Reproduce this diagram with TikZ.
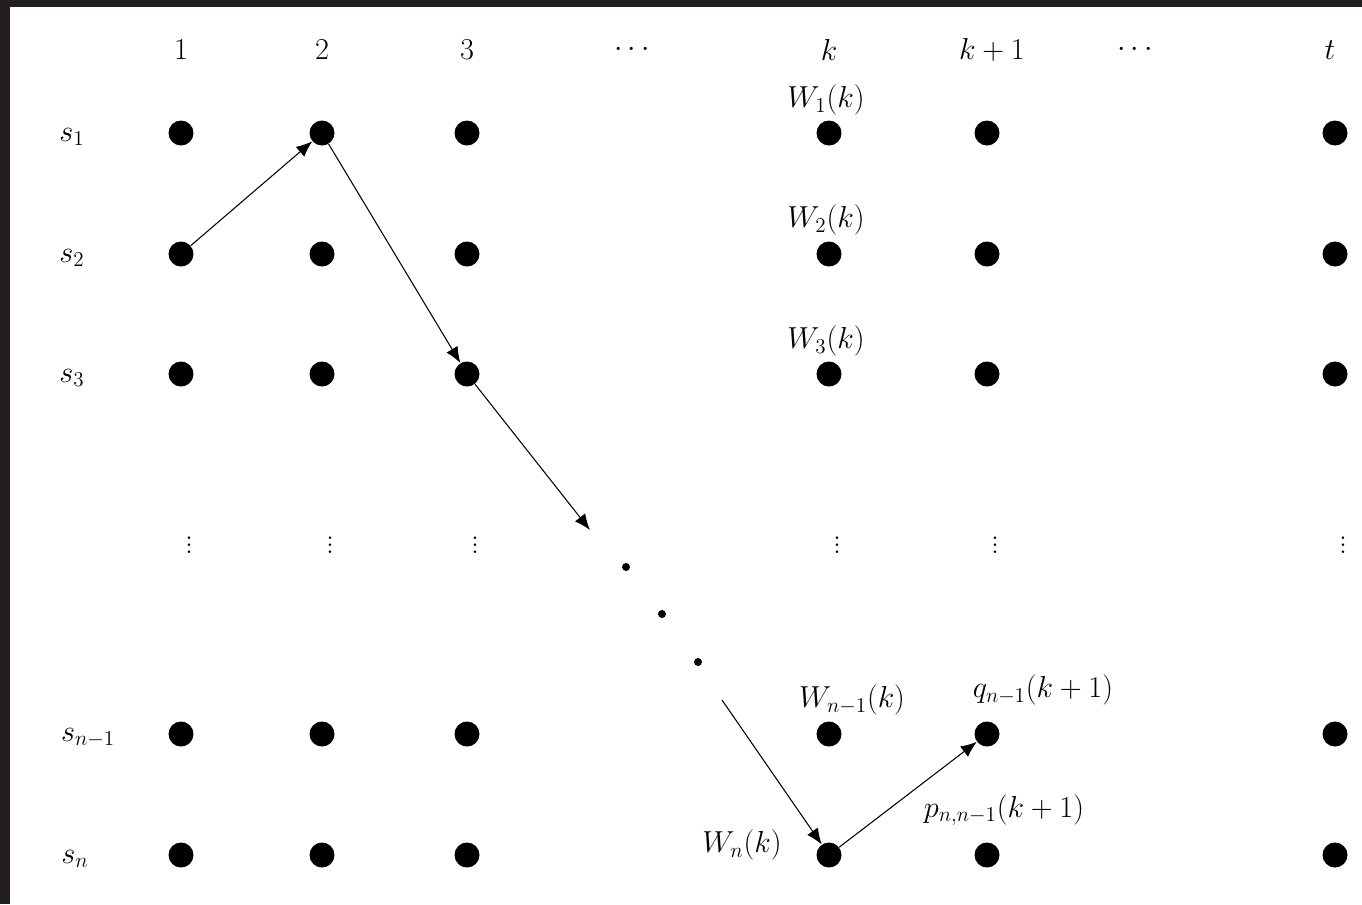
\documentclass[tikz,border=0pt]{standalone}
\usetikzlibrary{arrows.meta,positioning}
\definecolor{frame}{HTML}{231F20}

\begin{document}
\begin{tikzpicture}[
    x=0.02cm, y=-0.02cm,
    state/.style={circle, fill, inner sep=0pt, minimum size=0.5cm},
    small/.style={circle, fill, inner sep=0pt, minimum size=0.16cm},
    arrow/.style={-{Latex[length=3.2mm,width=2.6mm]}, semithick},
    every node/.style={font=\fontsize{18}{22}\selectfont}
]
\useasboundingbox (0,0) rectangle (1362,904);
% dark frame at the top and left
\fill[frame] (0,0) rectangle (1362,7);
\fill[frame] (0,0) rectangle (10,904);

% grid of states
\foreach \c/\x in {1/181, 2/322, 3/467, k/829, kk/987, t/1335}{
    \foreach \r/\y in {1/133, 2/254, 3/374, m/734, n/855}{
        \node[state] (\c-\r) at (\x,\y) {};
    }
    \node (\c-v) at (\x+8,540) {$\vdots$};
}

% column headers
\node (h1) at (181,50) {$1$};
\node (h2) at (322,50) {$2$};
\node (h3) at (467,50) {$3$};
\node (hd1) at (632,50) {$\cdots$};
\node (hk) at (829,50) {$k$};
\node (hkk) at (992,50) {$k+1$};
\node (hd2) at (1135,50) {$\cdots$};
\node (ht) at (1330,50) {$t$};

% row labels
\node (s1) at (72,137) {$s_1$};
\node (s2) at (72,258) {$s_2$};
\node (s3) at (72,378) {$s_3$};
\node (sm) at (88,738) {$s_{n-1}$};
\node (sn) at (75,859) {$s_n$};

% labels around column k
\node (w1) at (826,100) {$W_1(k)$};
\node (w2) at (826,220) {$W_2(k)$};
\node (w3) at (826,341) {$W_3(k)$};
\node (wm) at (852,700) {$W_{n-1}(k)$};
\node (wn) at (742,845) {$W_n(k)$};
\node (q) at (1043,690) {$q_{n-1}(k+1)$};
\node (p) at (1004,810) {$p_{n,n-1}(k+1)$};

% diagonal dots
\node[small] (d1) at (626,567) {};
\node[small] (d2) at (662,614) {};
\node[small] (d3) at (698,662) {};

% path
\coordinate (e1) at (590,530);
\coordinate (e2) at (722,700);
\draw[arrow] (1-2) -- (2-1);
\draw[arrow] (2-1) -- (3-3);
\draw[arrow] (3-3) -- (e1);
\draw[arrow] (e2) -- (k-n);
\draw[arrow] (k-n) -- (kk-m);

\end{tikzpicture}
\end{document}
